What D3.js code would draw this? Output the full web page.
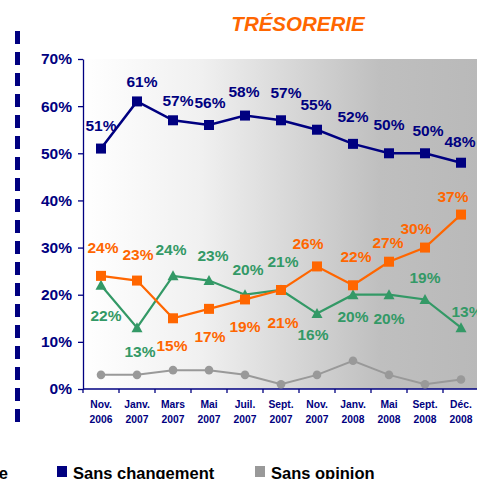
<!DOCTYPE html>
<html><head><meta charset="utf-8">
<script src="https://cdn.jsdelivr.net/npm/d3@7"></script>
<style>
html,body{margin:0;padding:0;background:#fff;}
svg{display:block;font-family:"Liberation Sans",Arial,sans-serif;}
</style></head>
<body>
<svg id="c" width="477" height="479"></svg>
<script>
// ---- data ----
const categories = ["Nov.|2006","Janv.|2007","Mars|2007","Mai|2007","Juil.|2007","Sept.|2007","Nov.|2007","Janv.|2008","Mai|2008","Sept.|2008","Déc.|2008"];
const sansChangement = [51,61,57,56,58,57,55,52,50,50,48];
const enHausse = [24,23,15,17,19,21,26,22,27,30,37];
const enBaisse = [22,13,24,23,20,21,16,20,20,19,13];
const sansOpinion = [3,3,4,4,3,1,3,6,3,1,2];
const yTicks = [0,10,20,30,40,50,60,70];
const title = "TRÉSORERIE";
const legendLabels = ["En hausse","Sans changement","Sans opinion"];

// ---- layout (label offsets relative to the point) ----
const navyLbl = [[0,-18],[5,-14],[5,-14],[1,-17],[-1,-19],[5,-22],[-1,-20],[0,-22],[0,-23],[3,-17],[-1,-16]];
const orangeLbl = [[2,-23],[1,-21],[-1,33],[1,33],[0,33],[2,38],[-9,-17],[3,-23],[-1,-14],[-9,-14],[-8,-13]];
const greenLbl = [[5,36],[3,29],[-2,-21],[4,-20],[3,-20],[2,-23],[-4,26],[0,27],[0,29],[0,-16],[6,-11]];

const NAVY="#000080", ORANGE="#FF6600", GREEN="#339966", GRAY="#999999";
const svg = d3.select("#c");

const x = d3.scaleBand().domain(categories).range([83,479]).padding(0);
const y = d3.scaleLinear().domain([0,70]).range([389,59]);
const cx = c => x(c) + x.bandwidth()/2;

// background gradient
const defs = svg.append("defs");
const g = defs.append("linearGradient").attr("id","bg").attr("x1","0").attr("x2","1").attr("y1","0").attr("y2","0");
g.append("stop").attr("offset","0").attr("stop-color","#ffffff");
g.append("stop").attr("offset","0.3").attr("stop-color","#f0f0f0");
g.append("stop").attr("offset","0.75").attr("stop-color","#bfbfbf");
g.append("stop").attr("offset","1").attr("stop-color","#b9b9b9");
svg.append("rect").attr("x",x.range()[0]).attr("y",y(70)).attr("width",x.range()[1]-x.range()[0]).attr("height",y(0)-y(70)).attr("fill","url(#bg)");

// title
svg.append("text").attr("x",298).attr("y",31).attr("text-anchor","middle")
  .attr("font-size",20.5).attr("font-weight","bold").attr("font-style","italic").attr("fill",ORANGE).text(title);

// left dashed line
svg.append("line").attr("x1",17.5).attr("x2",17.5).attr("y1",31).attr("y2",423)
  .attr("stroke",NAVY).attr("stroke-width",5).attr("stroke-dasharray","13,8");

// y axis
const ya = svg.append("g").attr("transform",`translate(${x.range()[0]},0)`)
  .call(d3.axisLeft(y).tickValues(yTicks).tickFormat(d=>d+"%").tickSize(5).tickSizeOuter(0).tickPadding(6));
ya.select(".domain").attr("stroke",NAVY).attr("stroke-width",1.3);
ya.selectAll(".tick line").attr("stroke",NAVY).attr("stroke-width",1.3);
ya.selectAll(".tick text").attr("fill",NAVY).attr("font-size",15.5).attr("font-weight","bold").attr("font-family","Liberation Sans, Arial, sans-serif");

// x axis
const xa = svg.append("g").attr("transform",`translate(0,${y(0)})`);
xa.append("line").attr("x1",x.range()[0]).attr("x2",x.range()[1]).attr("stroke",NAVY).attr("stroke-width",1.5);
const bounds = categories.map(c=>x(c)).concat([x.range()[1]]);
xa.selectAll(".xt").data(bounds).join("line").attr("x1",d=>d).attr("x2",d=>d).attr("y1",0).attr("y2",4).attr("stroke",NAVY).attr("stroke-width",1.3);
const xl = xa.selectAll(".xl").data(categories).join("text").attr("text-anchor","middle")
  .attr("font-size",10.3).attr("font-weight","bold").attr("fill",NAVY);
xl.append("tspan").attr("x",d=>cx(d)).attr("y",19).text(d=>d.split("|")[0]);
xl.append("tspan").attr("x",d=>cx(d)).attr("y",34).text(d=>d.split("|")[1]);

const line = d3.line().x((d,i)=>cx(categories[i])).y(d=>y(d));

function series(vals,color,width,marker,lbl){
  svg.append("path").datum(vals).attr("d",line).attr("fill","none").attr("stroke",color).attr("stroke-width",width);
  const gg = svg.append("g");
  vals.forEach((v,i)=>{
    const px=cx(categories[i]), py=y(v);
    if(marker==="square"){
      gg.append("rect").attr("x",px-5).attr("y",py-5).attr("width",10).attr("height",10).attr("fill",color);
    } else if(marker==="tri"){
      gg.append("path").attr("d",`M${px},${py-5.5}L${px+5.5},${py+4.5}L${px-5.5},${py+4.5}Z`).attr("fill",color);
    } else {
      gg.append("circle").attr("cx",px).attr("cy",py).attr("r",4.3).attr("fill",color);
    }
    if(lbl){
      svg.append("text").attr("x",px+lbl[i][0]).attr("y",py+lbl[i][1]).attr("text-anchor","middle")
        .attr("font-size",15.5).attr("font-weight","bold").attr("fill",color).text(v+"%");
    }
  });
}
series(sansOpinion,GRAY,2,"circle",null);
series(enBaisse,GREEN,2.2,"tri",greenLbl);
series(enHausse,ORANGE,2.2,"square",orangeLbl);
series(sansChangement,NAVY,2.5,"square",navyLbl);

// legend
const lg = svg.append("g").attr("font-size",16.5).attr("font-weight","bold").attr("fill","#000");
lg.append("rect").attr("x",-12).attr("y",466).attr("width",10).attr("height",11).attr("fill",ORANGE);
lg.append("text").attr("x",8).attr("y",479).attr("text-anchor","end").text(legendLabels[0]);
lg.append("rect").attr("x",57).attr("y",466).attr("width",10).attr("height",11).attr("fill",NAVY);
lg.append("text").attr("x",73).attr("y",479).text(legendLabels[1]);
lg.append("rect").attr("x",255).attr("y",466).attr("width",10).attr("height",11).attr("fill",GRAY);
lg.append("text").attr("x",271).attr("y",479).text(legendLabels[2]);
</script>
</body></html>
